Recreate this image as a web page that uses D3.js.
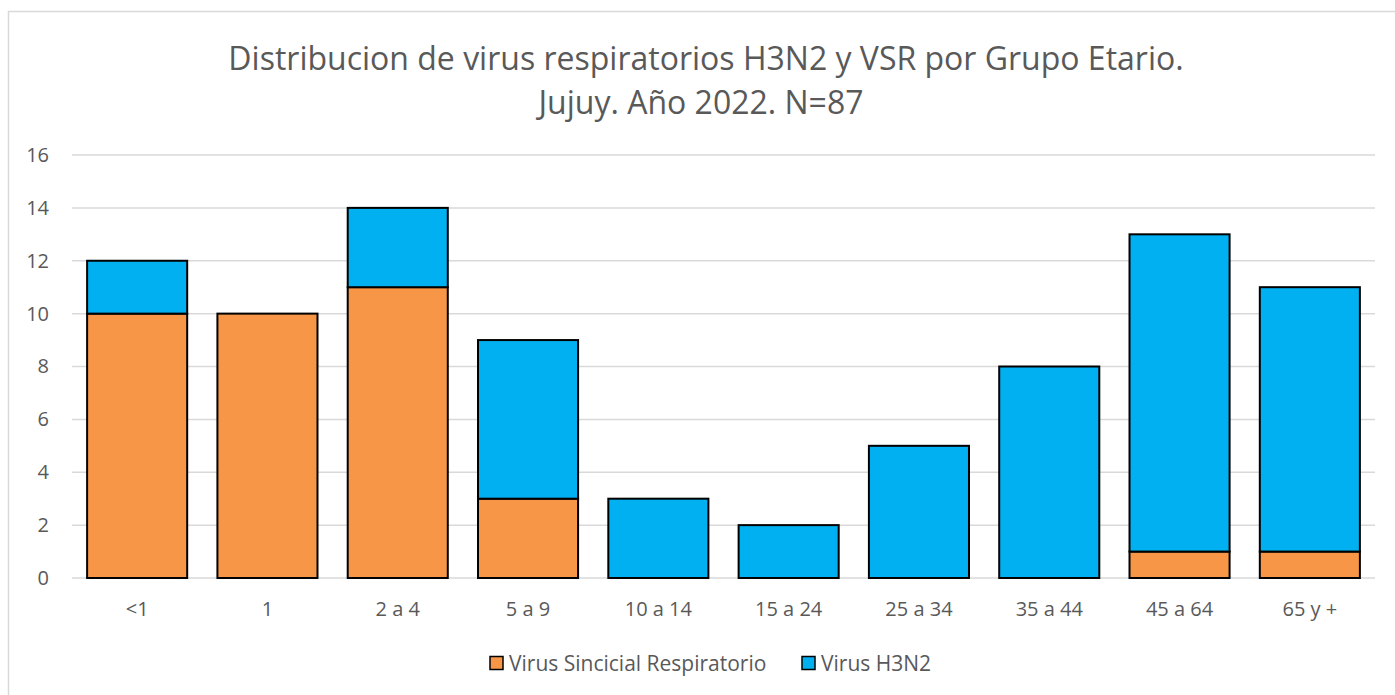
<!DOCTYPE html>
<html lang="es">
<head>
  <meta charset="UTF-8">
  <title>Distribucion de virus respiratorios</title>
  <style>
    body { margin: 0; background: #fff; }
    text { font-family: "Open Sans", sans-serif; fill: #595959; }
  </style>
</head>
<body>
  <svg id="svg" width="1395" height="695"></svg>

  <script src="https://d3js.org/d3.v7.min.js"></script>
  <script>
    const grupos = ['<1', '1', '2 a 4', '5 a 9', '10 a 14', '15 a 24', '25 a 34', '35 a 44', '45 a 64', '65 y +']
    const vsr = [10, 10, 11, 3, 0, 0, 0, 0, 1, 1]
    const h3n2 = [2, 0, 3, 6, 3, 2, 5, 8, 12, 10]
    const series = ['Virus Sincicial Respiratorio', 'Virus H3N2']
    const colores = ['#F79646', '#00B0F0']
    const yTicks = [0, 2, 4, 6, 8, 10, 12, 14, 16]

    const margin = { top: 155, right: 20, bottom: 117, left: 72 }
    const width = 1375 - margin.left
    const height = 578 - margin.top

    const svg = d3.select('#svg')

    // chart frame
    svg.append('rect')
      .attr('x', 8.5).attr('y', 11.5)
      .attr('width', 1400).attr('height', 700)
      .attr('fill', 'none')
      .attr('stroke', '#d9d9d9')
      .attr('stroke-width', 1.5)

    // title
    const title = svg.append('text')
      .attr('text-anchor', 'middle')
      .style('font-size', '32px')
    title.append('tspan').attr('x', 706).attr('y', 70)
      .text('Distribucion de virus respiratorios H3N2 y VSR por Grupo Etario.')
    title.append('tspan').attr('x', 701).attr('y', 114)
      .text('Jujuy. Año 2022. N=87')

    const xscale = d3.scaleBand()
      .domain(grupos)
      .range([margin.left, margin.left + width])
      .paddingInner(0.232)
      .paddingOuter(0.116)

    const yscale = d3.scaleLinear()
      .domain([0, 16])
      .range([margin.top + height, margin.top])

    // gridlines
    svg.append('g')
      .selectAll('line')
      .data(yTicks)
      .enter()
      .append('line')
      .attr('x1', margin.left)
      .attr('x2', margin.left + width)
      .attr('y1', d => yscale(d))
      .attr('y2', d => yscale(d))
      .attr('stroke', '#d9d9d9')
      .attr('stroke-width', 1.5)

    // left axis (labels only)
    const leftAxis = d3.axisLeft(yscale).tickValues(yTicks).tickSize(0)
    svg.append('g')
      .attr('transform', `translate(${margin.left}, 0)`)
      .call(leftAxis)
      .call(g => g.select('.domain').remove())
      .selectAll('text')
      .style('font-size', '20px')
      .attr('x', -23)

    // stacked data
    const table = grupos.map((g, i) => ({ grupo: g, vsr: vsr[i], h3n2: h3n2[i] }))
    const stack = d3.stack().keys(['vsr', 'h3n2'])(table)

    const barGroup = svg.append('g')
    barGroup.selectAll('g')
      .data(stack)
      .enter()
      .append('g')
      .attr('fill', (d, i) => colores[i])
      .selectAll('rect')
      .data(d => d.filter(p => p[1] - p[0] > 0))
      .enter()
      .append('rect')
      .attr('x', d => xscale(d.data.grupo))
      .attr('y', d => yscale(d[1]))
      .attr('width', xscale.bandwidth())
      .attr('height', d => yscale(d[0]) - yscale(d[1]))
      .attr('stroke', '#000')
      .attr('stroke-width', 2)

    // bottom axis
    const bottomAxis = d3.axisBottom(xscale).tickSize(0).tickPadding(24)
    svg.append('g')
      .attr('transform', `translate(0, ${margin.top + height})`)
      .call(bottomAxis)
      .call(g => g.select('.domain').remove())
      .selectAll('text')
      .style('font-size', '20px')

    // legend
    const legend = svg.append('g').attr('transform', 'translate(0, 663)')
    const legendX = [490, 802]
    series.forEach((s, i) => {
      legend.append('rect')
        .attr('x', legendX[i]).attr('y', -6.5)
        .attr('width', 13).attr('height', 13)
        .attr('fill', colores[i])
        .attr('stroke', '#000')
        .attr('stroke-width', 1.5)
      legend.append('text')
        .attr('x', legendX[i] + 19)
        .attr('y', 7.5)
        .style('font-size', '21px')
        .text(s)
    })
  </script>
</body>
</html>
